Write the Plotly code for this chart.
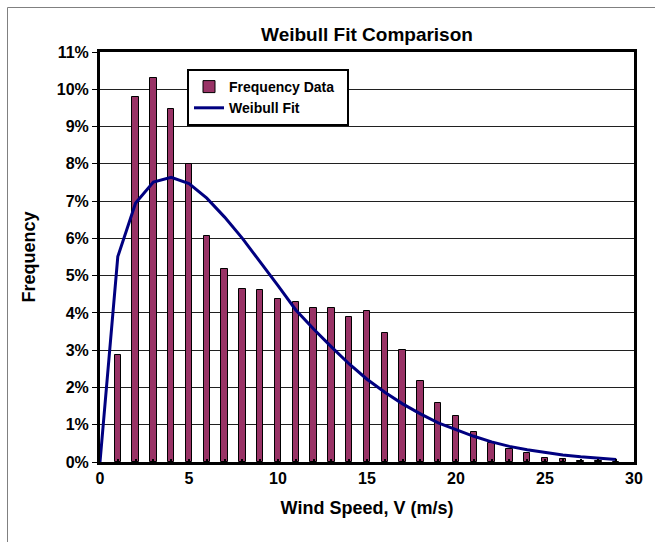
import plotly.graph_objects as go

# Data (percent)
wind_speed_bins = list(range(1, 30))
frequency_data = [2.87, 9.80, 10.30, 9.48, 8.00, 6.07, 5.17, 4.64, 4.62, 4.37,
                  4.30, 4.13, 4.12, 3.88, 4.04, 3.46, 3.01, 2.16, 1.58, 1.24,
                  0.80, 0.51, 0.36, 0.23, 0.12, 0.08, 0.04, 0.02, 0.01]
fit_speed = list(range(0, 30))
weibull_fit = [0.0, 5.51, 6.95, 7.51, 7.64, 7.47, 7.08, 6.57, 6.00, 5.38,
               4.73, 4.08, 3.57, 3.09, 2.63, 2.22, 1.87, 1.56, 1.29, 1.05,
               0.86, 0.69, 0.54, 0.42, 0.33, 0.25, 0.19, 0.14, 0.10, 0.07]

W, H = 655, 542
L, R, T, B = 100, 21, 52, 80
pw, ph = W - L - R, H - T - B

FONT = "Arial, Liberation Sans, sans-serif"


def f(size):
    return dict(size=size, family=FONT, color="black", weight="bold")


fig = go.Figure()
fig.add_trace(go.Bar(
    x=wind_speed_bins, y=frequency_data, name="Frequency Data&nbsp;&nbsp;",
    width=0.36, marker=dict(color="#993366", line=dict(color="black", width=1)),
))
fig.add_trace(go.Scatter(
    x=fit_speed, y=weibull_fit, name="Weibull Fit", mode="lines",
    line=dict(color="#000080", width=3),
))


def px_x(p):
    return (p - L) / pw


def px_y(p):
    return (H - B - p) / ph


fig.update_layout(
    width=W, height=H,
    margin=dict(l=L, r=R, t=T, b=B),
    paper_bgcolor="white", plot_bgcolor="white",
    font=dict(family=FONT, color="black"),
    title=dict(text="Weibull Fit Comparison", x=(L + pw / 2) / W, xanchor="center",
               y=1 - 34 / H, yanchor="middle", yref="container",
               font=f(19)),
    showlegend=True,
    legend=dict(x=px_x(187), y=px_y(69), xanchor="left", yanchor="top",
                bgcolor="white", bordercolor="black", borderwidth=2,
                font=f(14), tracegroupgap=0),
    bargap=0,
    xaxis=dict(range=[0, 30], dtick=5, tick0=0, showgrid=False, zeroline=False,
               showline=True, linecolor="black", linewidth=3, mirror=True,
               ticks="inside", ticklen=3, tickwidth=2, tickcolor="black",
               minor=dict(dtick=1, ticks="inside", ticklen=3, tickwidth=2,
                          tickcolor="black", showgrid=False),
               tickfont=f(16),
               title=dict(text="Wind Speed, V (m/s)", standoff=16, font=f(18)),
               layer="above traces"),
    yaxis=dict(range=[0, 11], dtick=1, tick0=0, ticksuffix="%",
               showgrid=True, gridcolor="#202020", gridwidth=1, zeroline=False,
               showline=True, linecolor="black", linewidth=3, mirror=True,
               ticks="outside", ticklen=5, tickwidth=1, tickcolor="black",
               tickfont=f(16),
               title=dict(text="Frequency", standoff=17, font=f(18)),
               layer="above traces"),
)

# Outer chart border (left and top edges visible)
fig.add_shape(type="line", xref="paper", yref="paper",
              x0=px_x(7.5), x1=px_x(W + 5), y0=px_y(7.5), y1=px_y(7.5),
              line=dict(color="#808080", width=1))
fig.add_shape(type="line", xref="paper", yref="paper",
              x0=px_x(7.5), x1=px_x(7.5), y0=px_y(7.5), y1=px_y(H + 5),
              line=dict(color="#808080", width=1))

fig.write_html("out.html", config={"displayModeBar": False},
               post_script="document.body.style.margin='0';document.body.style.overflow='hidden';")
